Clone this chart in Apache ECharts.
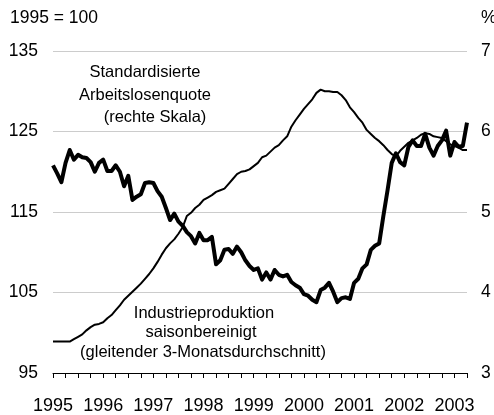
<!DOCTYPE html>
<html>
<head>
<meta charset="utf-8">
<script src="https://cdn.jsdelivr.net/npm/echarts@6/dist/echarts.min.js"></script>
<style>
  html, body { margin: 0; padding: 0; background: #fff; }
  #chart { width: 494px; height: 415px; }
</style>
</head>
<body>
<div id="chart"></div>
<script>
// monthly axis, Jan 1995 .. Apr 2003
const years = ["1995", "1996", "1997", "1998", "1999", "2000", "2001", "2002", "2003"];
const months = [];
for (const y of years) {
  for (let m = 1; m <= 12; m++) months.push(y + "-" + String(m).padStart(2, "0"));
}
months.length = 100;

// Standardisierte Arbeitslosenquote, % (right scale)
const unemployment = [
  5.58, 5.48, 5.37, 5.61, 5.77, 5.65, 5.71, 5.68, 5.67, 5.62, 5.50, 5.61,
  5.65, 5.51, 5.51, 5.58, 5.50, 5.32, 5.45, 5.15, 5.19, 5.22, 5.36, 5.37,
  5.36, 5.26, 5.19, 5.05, 4.90, 4.98, 4.88, 4.83, 4.75, 4.70, 4.61, 4.74,
  4.65, 4.65, 4.69, 4.35, 4.40, 4.53, 4.54, 4.48, 4.57, 4.50, 4.40, 4.33,
  4.28, 4.30, 4.16, 4.25, 4.16, 4.28, 4.22, 4.20, 4.22, 4.13, 4.09, 4.06,
  3.98, 3.96, 3.91, 3.88, 4.03, 4.06, 4.12, 4.01, 3.88, 3.93, 3.94, 3.92,
  4.12, 4.17, 4.30, 4.35, 4.53, 4.58, 4.61, 4.95, 5.27, 5.61, 5.73, 5.62,
  5.58, 5.81, 5.89, 5.82, 5.82, 5.97, 5.80, 5.70, 5.82, 5.89, 6.01, 5.70,
  5.87, 5.81, 5.82, 6.11
];

// Industrieproduktion, 1995 = 100 (left scale)
const production = [
  98.9, 98.9, 98.9, 98.9, 98.9, 99.2, 99.5, 99.8, 100.3, 100.7, 101.0, 101.1,
  101.3, 101.8, 102.2, 102.8, 103.4, 104.1, 104.6, 105.1, 105.6, 106.1, 106.7, 107.3,
  108.0, 108.8, 109.7, 110.5, 111.1, 111.6, 112.3, 113.1, 114.5, 114.9, 115.5, 115.9,
  116.5, 116.8, 117.1, 117.5, 117.7, 117.9, 118.5, 119.1, 119.7, 120.0, 120.1, 120.3,
  120.7, 121.1, 121.8, 122.0, 122.5, 123.0, 123.3, 123.9, 124.4, 125.6, 126.4, 127.1,
  127.8, 128.4, 129.0, 129.8, 130.2, 130.0, 130.0, 129.9, 129.9, 129.5, 128.9, 128.0,
  127.4, 126.7, 126.1, 125.2, 124.7, 124.2, 123.8, 123.3, 122.7, 122.2, 121.9, 122.6,
  123.1, 123.6, 123.9, 124.2, 124.6, 124.8, 124.7, 124.4, 124.3, 124.2, 123.8, 123.4,
  123.2, 123.0, 122.7, 122.7
];

const FONT = "Liberation Sans";
const NOTE = "16.5px " + FONT;
const chart = echarts.init(document.getElementById("chart"));

function note(text, x, y) {
  return { type: "text", x: x, y: y, style: { text: text, font: NOTE, fill: "#000", align: "center", verticalAlign: "middle" } };
}

chart.setOption({
  animation: false,
  backgroundColor: "#ffffff",
  textStyle: { fontFamily: FONT, color: "#000" },
  grid: { left: 53, right: 27, top: 51, bottom: 42 },
  xAxis: {
    type: "category",
    data: months,
    boundaryGap: false,
    axisLine: { lineStyle: { color: "#000", width: 1 } },
    axisTick: { interval: (i) => i % 3 === 0, length: 5, lineStyle: { color: "#000" } },
    axisLabel: {
      interval: (i) => i % 12 === 0,
      formatter: (v) => v.slice(0, 4),
      fontFamily: FONT, fontSize: 18, color: "#000", margin: 24,
    },
    splitLine: { show: false },
  },
  yAxis: [
    {
      type: "value", min: 95, max: 135, interval: 10,
      axisLine: { show: false }, axisTick: { show: false },
      axisLabel: { fontFamily: FONT, fontSize: 17.5, color: "#000", margin: 15 },
      splitLine: { lineStyle: { color: "#cccccc", width: 1 } },
    },
    {
      type: "value", min: 3, max: 7, interval: 1, position: "right",
      axisLine: { show: false }, axisTick: { show: false },
      axisLabel: { fontFamily: FONT, fontSize: 17.5, color: "#000", margin: 14 },
      splitLine: { show: false },
    },
  ],
  series: [
    {
      name: "Arbeitslosenquote", type: "line", yAxisIndex: 1, data: unemployment,
      showSymbol: false, lineStyle: { color: "#000", width: 4, join: "round" },
    },
    {
      name: "Industrieproduktion", type: "line", yAxisIndex: 0, data: production,
      showSymbol: false, lineStyle: { color: "#000", width: 2 },
    },
  ],
  graphic: [
    { type: "text", left: 10, top: 9, style: { text: "1995 = 100", font: "17.5px " + FONT, fill: "#000" } },
    { type: "text", left: 481, top: 9, style: { text: "%", font: "17.5px " + FONT, fill: "#000" } },
    note("Standardisierte", 145, 72),
    note("Arbeitslosenquote", 145, 95),
    note("(rechte Skala)", 155, 117),
    note("Industrieproduktion", 204, 313),
    note("saisonbereinigt", 201, 332),
    note("(gleitender 3-Monatsdurchschnitt)", 203, 352),
  ],
});
</script>
</body>
</html>
